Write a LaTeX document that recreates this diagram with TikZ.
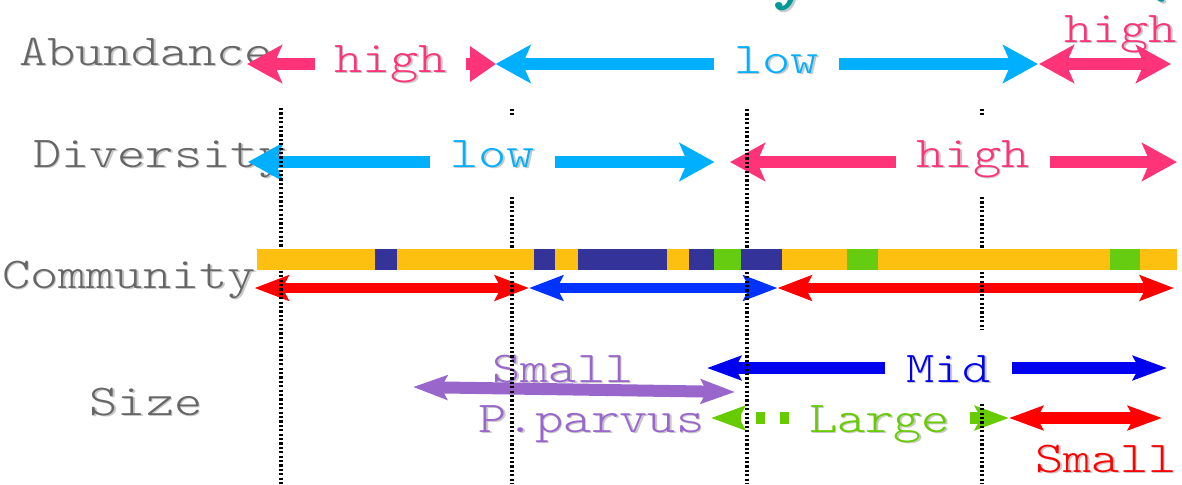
\documentclass[tikz,border=0pt]{standalone}
\usepackage{fontspec}
\newfontfamily\cour{lmmonolt10-regular}[Extension=.otf,FakeStretch=1.22]
\newfontfamily\courbold{lmmonolt10-bold}[Extension=.otf,FakeStretch=1.22]
\usetikzlibrary{arrows.meta,calc}
\pgfdeclarelayer{fg}
\pgfsetlayers{main,fg}
\definecolor{pinkc}{RGB}{255,51,119}
\definecolor{cyanc}{RGB}{0,176,255}
\definecolor{redc}{RGB}{255,0,0}
\definecolor{commblue}{RGB}{0,51,255}
\definecolor{midblue}{RGB}{0,0,240}
\definecolor{purplec}{RGB}{153,102,204}
\definecolor{greenc}{RGB}{102,204,0}
\definecolor{bary}{RGB}{254,192,16}
\definecolor{barn}{RGB}{51,51,153}
\definecolor{barg}{RGB}{102,204,17}
\definecolor{grayt}{RGB}{102,102,102}
\definecolor{shadc}{RGB}{200,200,200}
\definecolor{tealc}{RGB}{0,153,153}
\tikzset{
  hA/.tip={Stealth[length=17.5pt,width=19pt,inset=4pt]},
  hC/.tip={Stealth[length=17pt,width=12.5pt,inset=3pt]},
  hD/.tip={Stealth[length=17pt,width=12pt,inset=3pt]},
  txt/.style={font=\cour\fontsize{22}{26}\selectfont,inner sep=0pt,anchor=base},
  boxlbl/.style={fill=white,text height=26pt,text depth=14pt},
  rowA/.style={line width=6pt},
  rowC/.style={line width=5pt},
  rowD/.style={line width=6pt},
  vline/.style={line width=1.6pt,dash pattern=on 1.1pt off 1.1pt,black},
}
\newcommand\shtext[5][]{%
  \node[txt,#1] (#2) at #3 {\phantom{#5}};
  \node[txt,text=shadc] (#2s) at ([shift={(1.6,1.8)}]#2.base) {#5};
  \node[txt,text=#4] (#2t) at (#2.base) {#5};}
\begin{document}
\begin{tikzpicture}[x=0.5pt,y=-0.5pt]
\useasboundingbox (0,0) rectangle (1182,484);
\fill[white] (0,0) rectangle (1182,484);

% ---------- labels with white boxes (top layer)
\begin{pgfonlayer}{fg}
  \shtext[boxlbl,inner xsep=9.5pt]{hiA}{(390.5,72)}{pinkc}{high}
  \shtext[boxlbl,inner xsep=10pt]{loA}{(776.5,73)}{cyanc}{low}
  \shtext[boxlbl,inner xsep=10pt]{loB}{(492.5,167)}{cyanc}{low}
  \shtext[boxlbl,inner xsep=10pt]{hiB}{(973,167)}{pinkc}{high}
  \shtext[boxlbl,inner xsep=10.5pt,text depth=11pt]{mid}{(948.5,382)}{midblue}{Mid}
  \shtext[fill=white,inner xsep=10pt,text height=14pt,text depth=0pt]{large}{(879.5,432)}{greenc}{Large}
\end{pgfonlayer}

% ---------- title fragments (cut off by the top edge, as in the reference)
\node[txt,font=\courbold\fontsize{30}{34}\selectfont,text=shadc] (ttys) at (794,-1) {y};
\node[txt,font=\courbold\fontsize{30}{34}\selectfont,text=tealc] (tty) at (792,-3) {y};
\node[txt,font=\courbold\fontsize{30}{34}\selectfont,text=shadc] (ttps) at (1154,-1) {(};
\node[txt,font=\courbold\fontsize{30}{34}\selectfont,text=tealc] (ttp) at (1152,-3) {(};

% ---------- plain labels
\shtext{abund}{(146,65)}{grayt}{Abundance}
\shtext{divers}{(160,167)}{grayt}{Diversity}
\shtext{commun}{(129,288)}{grayt}{Community}
\shtext{size}{(146,415)}{grayt}{Size}
\shtext{hiC}{(1120.5,42)}{pinkc}{high}
\shtext{smallP}{(563,382)}{purplec}{Small}
\shtext{parvus}{(591.5,432)}{purplec}{P.parvus}
\shtext{smallR}{(1106,472)}{redc}{Small}

% ---------- coordinates
\coordinate (pA1) at (247,64);
\coordinate (pA2) at (496,64);
\coordinate (bA1) at (495.6,64);
\coordinate (bA2) at (1038,64);
\coordinate (pA3) at (1039,64);
\coordinate (pA4) at (1171,64);
\coordinate (bB1) at (248,162);
\coordinate (bB2) at (714.5,162);
\coordinate (pB1) at (730,162);
\coordinate (pB2) at (1177,162);
\coordinate (rC1) at (254.5,288);
\coordinate (rC2) at (529,288);
\coordinate (bC1) at (529,288);
\coordinate (bC2) at (777.5,288);
\coordinate (rC3) at (777.5,288);
\coordinate (rC4) at (1174,288);
\coordinate (uD1) at (413,387);
\coordinate (uD2) at (735,392);
\coordinate (mD1) at (707,368);
\coordinate (mD2) at (1167,368);
\coordinate (gD1) at (711,418);
\coordinate (gD2) at (1009,418);
\coordinate (rD1) at (1009,418);
\coordinate (rD2) at (1162,418);

% ---------- row 1: abundance
\draw[rowA,pinkc,-hA] (hiA.west |- pA1) -- (pA1);
\draw[rowA,pinkc,-{Triangle[length=13pt,width=17pt]}] (hiA.east |- pA2) -- (pA2);
\draw[rowA,cyanc,-hA] (loA.west |- bA1) -- (bA1);
\draw[rowA,cyanc,-hA] (loA.east |- bA2) -- (bA2);
\draw[rowA,pinkc,hA-hA] (pA3) -- (pA4);

% ---------- row 2: diversity
\draw[rowA,cyanc,-hA] (loB.west |- bB1) -- (bB1);
\draw[rowA,cyanc,-hA] (loB.east |- bB2) -- (bB2);
\draw[rowA,pinkc,-hA] (hiB.west |- pB1) -- (pB1);
\draw[rowA,pinkc,-hA] (hiB.east |- pB2) -- (pB2);

% ---------- row 3: community arrows
\draw[rowC,redc,hC-hC] (rC1) -- (rC2);
\draw[rowC,commblue,hC-hC] (bC1) -- (bC2);
\draw[rowC,redc,hC-hC] (rC3) -- (rC4);

% ---------- row 4: size
\draw[rowD,purplec,hD-hD] (uD1) -- (uD2);
\draw[rowD,midblue,-hD] (mid.west |- mD1) -- (mD1);
\draw[rowD,midblue,-hD] (mid.east |- mD2) -- (mD2);
\draw[rowD,greenc,dash pattern=on 4.5pt off 7.5pt,-hD] (large.west |- gD1) -- (gD1);
\draw[rowD,greenc,-hD] (large.east |- gD2) -- (gD2);
\draw[rowD,redc,hD-hD] (rD1) -- (rD2);

% ---------- dotted guide lines
\foreach \vx/\vt in {281/108,512/109,747/109,982/109}{
  \draw[vline] (\vx,\vt) -- (\vx,484);
}

% ---------- community bar
\fill[bary] (257,249) rectangle (1177,270);
\foreach \a/\b in {375/397,533.5/555,578/667,689/714,741/782}{
  \fill[barn] (\a,249) rectangle (\b,270);
}
\foreach \a/\b in {714/741,847/878,1110/1140}{
  \fill[barg] (\a,249) rectangle (\b,270);
}
\end{tikzpicture}
\end{document}
